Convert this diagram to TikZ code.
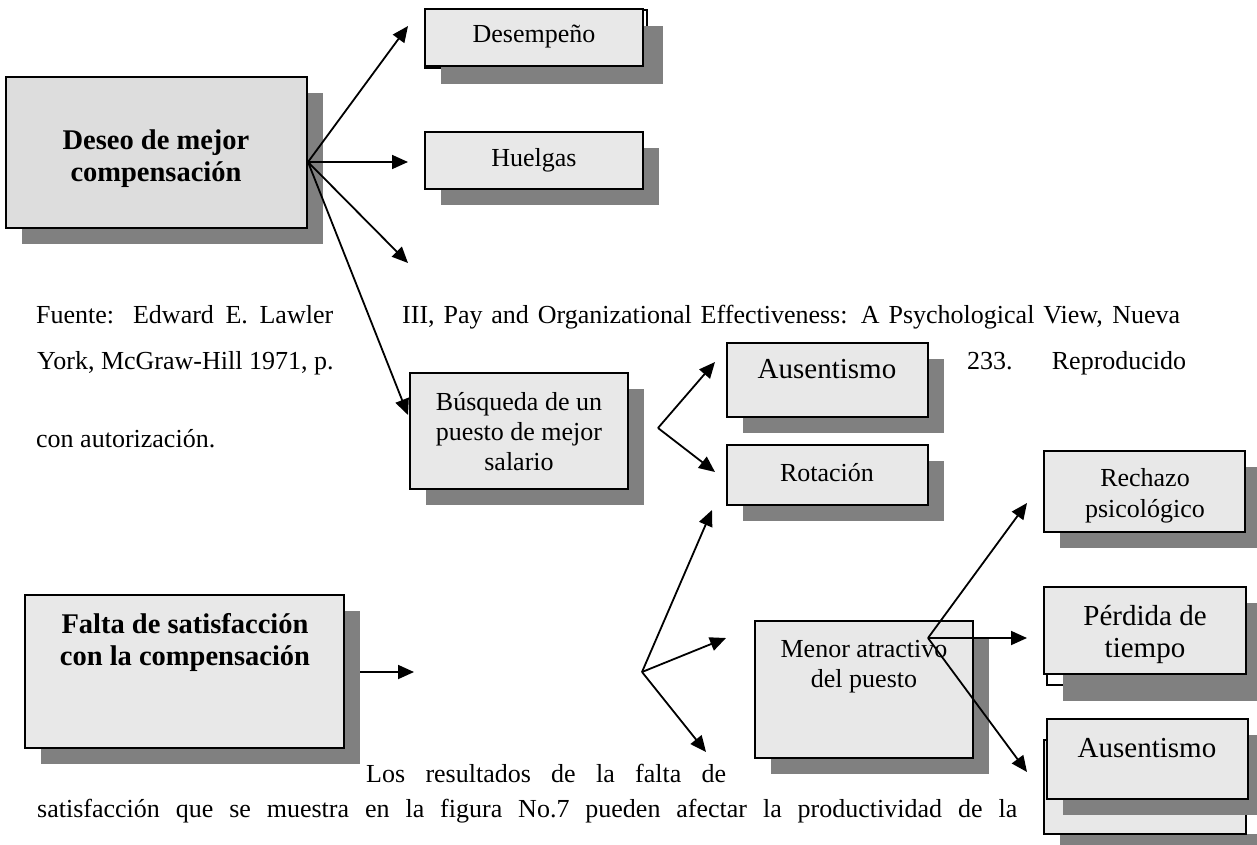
\documentclass[tikz,border=0pt]{standalone}
\usepackage{fontspec}
\setmainfont{Liberation Serif}
\usetikzlibrary{arrows.meta}

\definecolor{boxfill}{HTML}{E8E8E8}
\definecolor{boxdark}{HTML}{DDDDDD}
\definecolor{shade}{HTML}{808080}

\tikzset{
  box/.style={draw=black, line width=1.6pt, inner sep=0pt, outer sep=0pt},
  castshadow/.style={fill=shade, draw=none},
  arr/.style={line width=1.8pt, -{Triangle[length=16pt,width=14pt]}},
  bodytext/.style={font=\fontsize{26}{30}\selectfont, inner sep=0pt, anchor=base west},
  lbl/.style={font=\fontsize{26}{30}\selectfont, inner sep=0pt, anchor=base},
  lblbig/.style={font=\fontsize{29}{33}\selectfont, inner sep=0pt, anchor=base},
  lblbold/.style={font=\fontsize{28.5}{32}\selectfont\bfseries, inner sep=0pt, anchor=base},
}

% box with a grey cast shadow: name, x1, y1, x2, y2, fill
\newcommand\castbox[6]{%
  \fill[castshadow] (#2+16,#3+16) rectangle (#4+16,#5+16);
  \node[box, fill=#6, minimum width={(#4-#2)*1pt}, minimum height={(#5-#3)*1pt}]
    (#1) at ({(#2+#4)/2},{(#3+#5)/2}) {};
}
% plain box without shadow (second sheet behind a box)
\newcommand\sheet[6]{%
  \node[box, fill=#6, minimum width={(#4-#2)*1pt}, minimum height={(#5-#3)*1pt}]
    (#1) at ({(#2+#4)/2},{(#3+#5)/2}) {};
}

\begin{document}
\begin{tikzpicture}[x=1pt,y=-1pt]
\useasboundingbox (0,0) rectangle (1257,845);

% ---------- boxes ----------
\castbox{des}{6}{77}{307}{228}{boxdark}
\sheet{desemback}{425}{10}{647}{68}{white}
\fill[castshadow] (441,26) rectangle (663,84);
\sheet{desem}{425}{9}{643}{66}{boxfill}
\castbox{hue}{425}{132}{643}{189}{boxfill}
\castbox{bus}{410}{373}{628}{489}{boxfill}
\castbox{aus}{727}{343}{928}{417}{boxfill}
\castbox{rot}{727}{445}{928}{505}{boxfill}
\castbox{rech}{1044}{451}{1245}{532}{boxfill}
\sheet{perback}{1047}{600}{1238}{685}{white}
\fill[castshadow] (1063,603) rectangle (1265,701);
\sheet{per}{1044}{587}{1246}{674}{boxfill}
\castbox{men}{755}{621}{973}{758}{boxfill}
\fill[castshadow] (1060,834) rectangle (1262,850);
\sheet{ausbback}{1044}{740}{1246}{834}{boxfill}
\castbox{ausb}{1047}{719}{1248}{799}{boxfill}
\castbox{fal}{25}{595}{344}{748}{boxfill}

% ---------- box labels ----------
\node[lblbold] (desT1) at (156,150) {Deseo de mejor};
\node[lblbold] (desT2) at (156,182) {compensación};
\node[lbl] (desemT) at (534,43) {Desempeño};
\node[lbl] (hueT) at (534,167) {Huelgas};
\node[lbl] (busT1) at (519,410) {Búsqueda de un};
\node[lbl] (busT2) at (519,440) {puesto de mejor};
\node[lbl] (busT3) at (519,470) {salario};
\node[lblbig] (ausT) at (827,378) {Ausentismo};
\node[lbl] (rotT) at (827,481) {Rotación};
\node[lbl] (rechT1) at (1145,486) {Rechazo};
\node[lbl] (rechT2) at (1145,517) {psicológico};
\node[lblbig] (perT1) at (1145,625) {Pérdida de};
\node[lblbig] (perT2) at (1145,657) {tiempo};
\node[lblbig] (ausbT) at (1147,757) {Ausentismo};
\node[lbl] (menT1) at (864,657) {Menor atractivo};
\node[lbl] (menT2) at (864,687) {del puesto};
\node[lblbold] (falT1) at (185,633) {Falta de satisfacción};
\node[lblbold] (falT2) at (185,665) {con la compensación};

% ---------- running text ----------
\node[bodytext] (src1a) at (36,323) {\makebox[297pt][s]{Fuente: Edward E. Lawler}};
\node[bodytext] (src1b) at (402,323) {\makebox[778pt][s]{III, Pay and Organizational Effectiveness: A Psychological View, Nueva}};
\node[bodytext] (src2a) at (37,369) {York, McGraw-Hill 1971, p.};
\node[bodytext] (src2b) at (967,369) {\makebox[219pt][s]{233. Reproducido}};
\node[bodytext] (src3) at (36,447) {con autorización.};
\node[bodytext] (par1) at (366,782) {\makebox[360pt][s]{Los resultados de la falta de}};
\node[bodytext] (par2) at (37,817) {\makebox[980pt][s]{satisfacción que se muestra en la figura No.7 pueden afectar la productividad de la}};

% ---------- connectors ----------
\coordinate (desO) at (308,162);
\coordinate (toDesem) at (408,26);
\coordinate (toHue) at (408,162);
\coordinate (toBlank) at (408,263);
\coordinate (toBus) at (408,415);
\draw[arr] (desO) -- (toDesem);
\draw[arr] (desO) -- (toHue);
\draw[arr] (desO) -- (toBlank);
\draw[arr] (desO) -- (toBus);

\coordinate (busO) at (658,428);
\coordinate (toAus) at (715,362);
\coordinate (toRot) at (715,472);
\draw[arr] (busO) -- (toAus);
\draw[arr] (busO) -- (toRot);

\coordinate (falO) at (360,672);
\coordinate (falTip) at (414,672);
\draw[arr] (falO) -- (falTip);

\coordinate (lowO) at (642,672);
\coordinate (toRotLow) at (712,510);
\coordinate (toMen) at (726,638);
\coordinate (toDown) at (706,752);
\draw[arr] (lowO) -- (toRotLow);
\draw[arr] (lowO) -- (toMen);
\draw[arr] (lowO) -- (toDown);

\coordinate (menO) at (928,638);
\coordinate (toRech) at (1027,503);
\coordinate (toPer) at (1027,638);
\coordinate (toAusb) at (1027,772);
\draw[arr] (menO) -- (toRech);
\draw[arr] (menO) -- (toPer);
\draw[arr] (menO) -- (toAusb);
\end{tikzpicture}
\end{document}
